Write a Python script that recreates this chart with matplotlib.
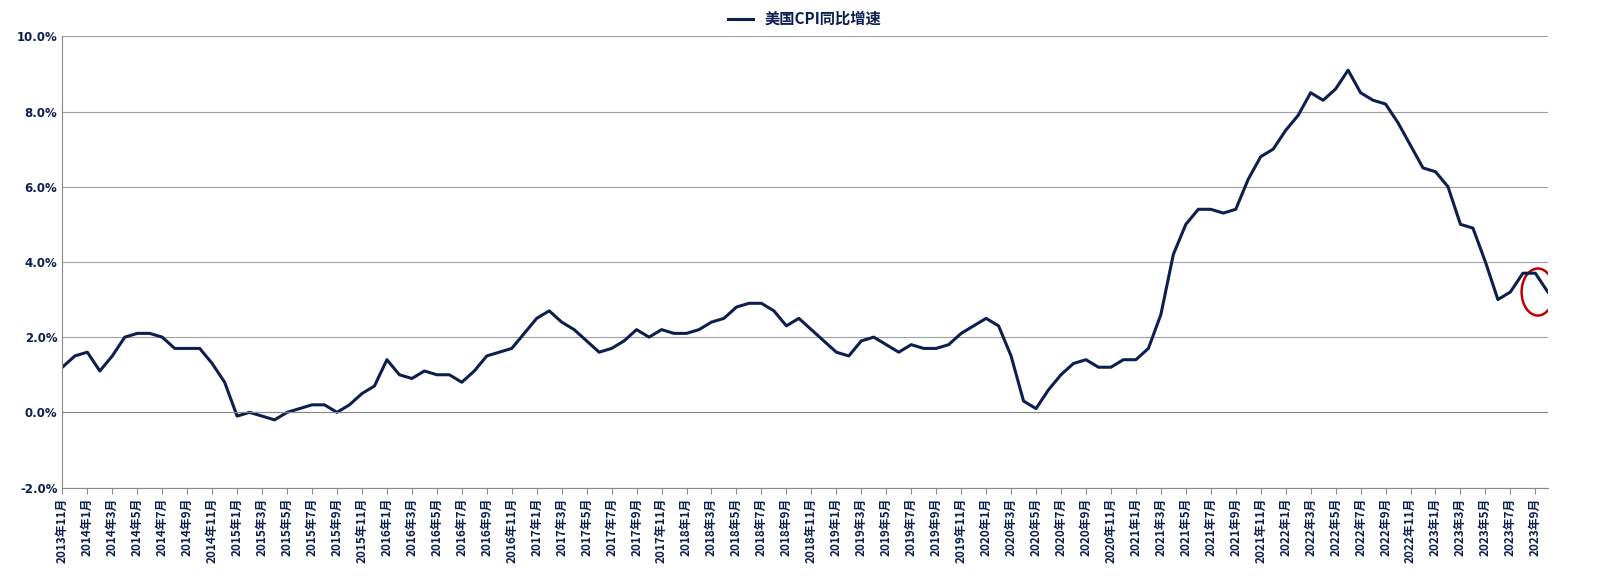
import matplotlib
matplotlib.use("Agg")
import matplotlib.pyplot as plt
from matplotlib.patches import Ellipse

plt.rcParams['font.family'] = ['Noto Sans CJK SC', 'DejaVu Sans']

values = [1.2, 1.5,
 1.6, 1.1, 1.5, 2.0, 2.1, 2.1, 2.0, 1.7, 1.7, 1.7, 1.3, 0.8,
 -0.1, 0.0, -0.1, -0.2, 0.0, 0.1, 0.2, 0.2, 0.0, 0.2, 0.5, 0.7,
 1.4, 1.0, 0.9, 1.1, 1.0, 1.0, 0.8, 1.1, 1.5, 1.6, 1.7, 2.1,
 2.5, 2.7, 2.4, 2.2, 1.9, 1.6, 1.7, 1.9, 2.2, 2.0, 2.2, 2.1,
 2.1, 2.2, 2.4, 2.5, 2.8, 2.9, 2.9, 2.7, 2.3, 2.5, 2.2, 1.9,
 1.6, 1.5, 1.9, 2.0, 1.8, 1.6, 1.8, 1.7, 1.7, 1.8, 2.1, 2.3,
 2.5, 2.3, 1.5, 0.3, 0.1, 0.6, 1.0, 1.3, 1.4, 1.2, 1.2, 1.4,
 1.4, 1.7, 2.6, 4.2, 5.0, 5.4, 5.4, 5.3, 5.4, 6.2, 6.8, 7.0,
 7.5, 7.9, 8.5, 8.3, 8.6, 9.1, 8.5, 8.3, 8.2, 7.7, 7.1, 6.5,
 6.4, 6.0, 5.0, 4.9, 4.0, 3.0, 3.2, 3.7, 3.7, 3.2]
months = []
y, m = 2013, 11
for _ in values:
    months.append(f"{y}年{m}月")
    m += 1
    if m > 12:
        m = 1; y += 1

navy = '#0d1f4f'
fig = plt.figure(figsize=(15.99, 5.86), dpi=100)
ax = fig.add_axes([0.039, 0.168, 0.929, 0.77])
x = list(range(len(values)))
ax.plot(x, [v/100 for v in values], color=navy, lw=2.2, label='美国CPI同比增速')
ax.set_xlim(0, len(values)-1)
ax.set_ylim(-0.02, 0.10)
ax.set_yticks([i/100 for i in range(-2, 11, 2)])
ax.set_yticklabels([f"{i:.1f}%" for i in range(-2, 11, 2)], fontsize=8.5, fontweight='bold', color=navy, family='DejaVu Sans')
ax.set_xticks(x[::2])
ax.set_xticklabels(months[::2], rotation=90, fontsize=8.5, fontweight='bold', color=navy)
ax.grid(axis='y', color='#a0a0a0', lw=0.8)
for s in ['top', 'right']:
    ax.spines[s].set_visible(False)
ax.spines['left'].set_color('#888888')
ax.spines['bottom'].set_color('#888888')
ax.tick_params(axis='y', length=0)
ax.tick_params(axis='x', length=4, color='#888888')
ax.axhline(0, color='#888888', lw=0.8)
ax.add_patch(Ellipse((118.2, 0.032), 2.6, 0.0125, fill=False, ec='#c00000', lw=1.8))
leg = ax.legend(loc='lower center', bbox_to_anchor=(0.5, 0.99), frameon=False,
                prop={'weight': 'bold', 'size': 11, 'family': ['Noto Sans CJK SC', 'DejaVu Sans']},
                handlelength=1.6)
for t in leg.get_texts():
    t.set_color(navy)
fig.savefig('out.png', dpi=100)
